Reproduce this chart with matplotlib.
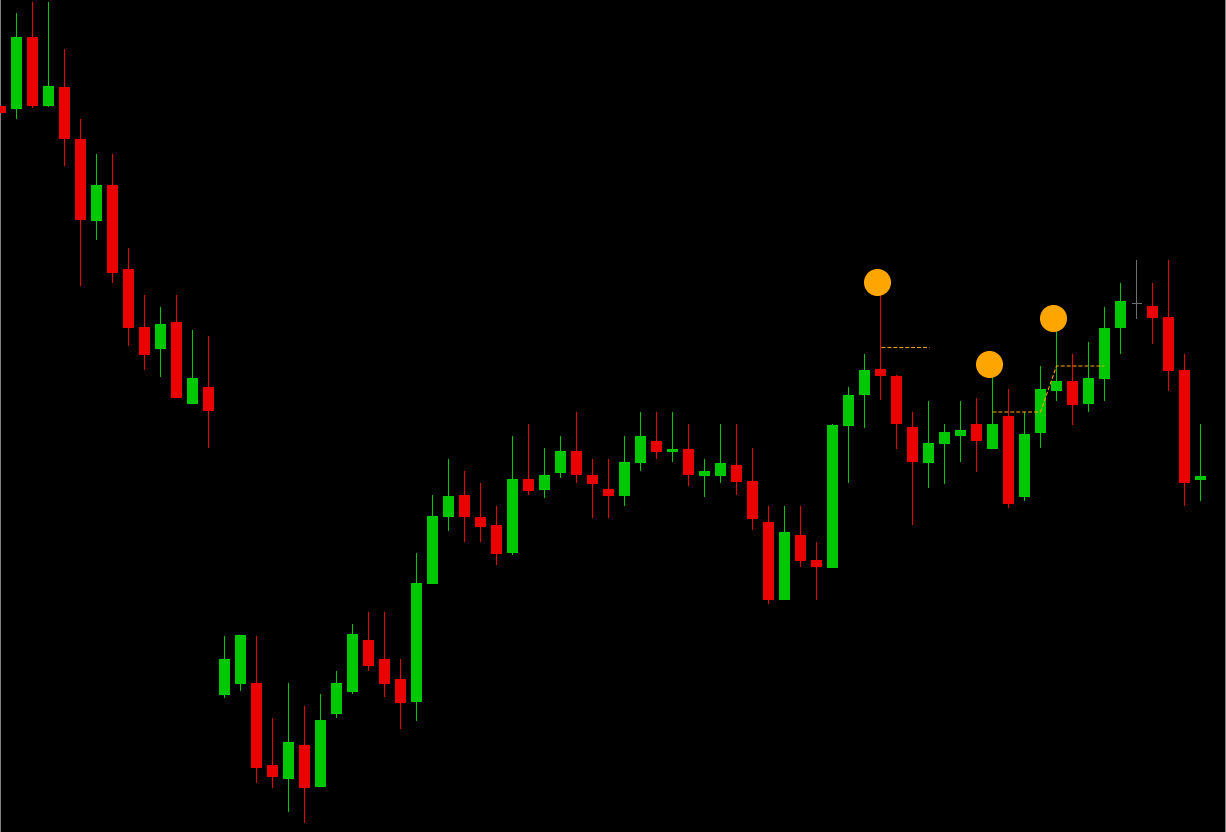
import numpy as np
import matplotlib
matplotlib.use("Agg")
import matplotlib.pyplot as plt

# OHLC (arbitrary price units)
opens = [726, 723, 795, 726, 745, 693, 611, 647, 563, 505, 483, 510, 428, 445,
         137, 148, 149, 67, 53, 87, 45, 118, 140, 192, 173, 153, 130, 248,
         315, 337, 315, 307, 279, 353, 342, 359, 381, 357, 343, 336, 369, 391,
         380, 383, 356, 356, 367, 351, 310, 232, 297, 272, 264, 406, 437, 463,
         456, 405, 369, 388, 396, 408, 383, 416, 335, 399, 441, 451, 428, 453,
         504, 528, 526, 515, 462, 352]
highs = [726, 819, 830, 830, 783, 713, 678, 678, 584, 537, 525, 537, 502, 496,
         196, 197, 196, 114, 149, 126, 138, 161, 208, 220, 220, 173, 279, 337,
         373, 361, 349, 326, 396, 408, 384, 396, 420, 373, 373, 396, 420, 420,
         420, 408, 373, 408, 408, 384, 326, 326, 326, 290, 408, 445, 478, 542,
         457, 420, 431, 408, 431, 434, 460, 443, 420, 466, 506, 478, 490, 525,
         549, 572, 549, 572, 478, 408]
lows = [719, 713, 724, 725, 666, 546, 592, 549, 486, 462, 455, 434, 428, 384,
        134, 141, 49, 44, 20, 9, 45, 114, 138, 161, 135, 103, 111, 248,
        301, 290, 290, 267, 277, 337, 334, 354, 349, 314, 314, 326, 361, 373,
        370, 346, 335, 349, 337, 302, 228, 232, 265, 232, 264, 349, 404, 432,
        383, 307, 344, 348, 370, 360, 383, 324, 331, 384, 431, 407, 420, 431,
        478, 513, 488, 441, 326, 331]
closes = [719, 795, 726, 746, 693, 612, 647, 559, 504, 477, 508, 434, 454, 421,
          173, 197, 64, 55, 90, 44, 112, 149, 198, 166, 148, 129, 249, 316,
          336, 315, 305, 278, 353, 341, 357, 381, 357, 348, 336, 370, 396, 380,
          383, 357, 361, 369, 350, 313, 232, 300, 271, 265, 407, 437, 462, 456,
          408, 370, 389, 400, 402, 391, 408, 328, 398, 443, 451, 427, 454, 504,
          531, 528, 514, 461, 349, 356]

# signal markers and level lines
signal_idx = [55, 62, 66]
signal_price = [550, 468, 514]
level1_x = [55, 58]
level1_y = [485, 485]
level2_x = [62, 65, 66, 69]
level2_y = [420, 420, 466, 466]

UP = "#00c800"
DOWN = "#eb0000"
DOJI = "#6e6e6e"
ORANGE = "#ffa500"

fig = plt.figure(figsize=(12.26, 8.32), dpi=100, facecolor="black")
ax = fig.add_axes([0, 0, 1, 1])
ax.set_facecolor("black")

x = np.arange(len(opens))
o = np.array(opens)
h = np.array(highs)
l = np.array(lows)
c = np.array(closes)

colors = list(np.where(c > o, UP, np.where(c < o, DOWN, DOJI)))

# wicks as 1px wide bars (16 px per candle slot)
ax.bar(x, h - l, bottom=l, width=1 / 16, color=colors, linewidth=0,
       antialiased=False, zorder=2)
# bodies
body_low = np.minimum(o, c)
body_h = np.maximum(np.abs(c - o), 1)
doji = c == o
body_w = np.where(doji, 0.625, 0.6875)
ax.bar(x, body_h, bottom=body_low, width=body_w, color=colors,
       linewidth=0, antialiased=False, zorder=3)

ax.plot(level1_x, level1_y, color=ORANGE, linewidth=0.75,
        dashes=(3.8, 1.9), zorder=4)
ax.plot(level2_x, level2_y, color=ORANGE, linewidth=0.75,
        dashes=(3.8, 1.9), zorder=4)

ax.plot(np.array(signal_idx) - 0.22, signal_price, "o", color=ORANGE,
        markersize=19.5, markeredgewidth=0, zorder=5)

ax.set_xlim(-0.03125, -0.03125 + 1226 / 16)
ax.set_ylim(0, 832)
ax.set_xticks([])
ax.set_yticks([])
for side in ["top", "bottom"]:
    ax.spines[side].set_visible(False)
for side in ["left", "right"]:
    ax.spines[side].set_color("#9a9a9a")
    ax.spines[side].set_linewidth(1.2)

fig.savefig("out.png", dpi=100, facecolor="black")
